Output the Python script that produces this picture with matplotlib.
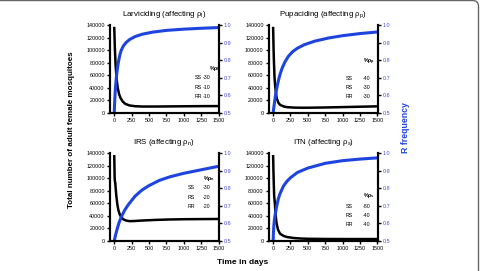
import matplotlib
matplotlib.use("Agg")
import matplotlib.pyplot as plt
from matplotlib.patches import FancyBboxPatch

plt.rcParams['font.family'] = ['Liberation Sans', 'DejaVu Sans']
plt.rcParams['mathtext.default'] = 'regular'

# x ticks / y ticks
x_ticks = [0, 250, 500, 750, 1000, 1250, 1500]
pop_ticks = [0, 20000, 40000, 60000, 80000, 100000, 120000, 140000]
freq_ticks = [0.5, 0.6, 0.7, 0.8, 0.9, 1.0]

# Larviciding (rho_l)
days_l = [0, 5, 10, 20, 35, 50, 70, 90, 120, 160, 220, 300, 400, 600, 800, 1000, 1250, 1500]
pop_l = [137000, 118000, 100000, 76000, 53000, 40000, 30000, 24000, 18500, 14500, 12000, 10800,
         10300, 10300, 10500, 10700, 10900, 11000]
days_lf = [0, 5, 10, 15, 20, 30, 40, 50, 65, 80, 100, 130, 170, 220, 300, 400, 550, 750, 1000, 1250, 1500]
freq_l = [0.5, 0.55, 0.59, 0.625, 0.655, 0.7, 0.735, 0.765, 0.8, 0.828, 0.855, 0.88, 0.9, 0.917,
          0.934, 0.947, 0.959, 0.969, 0.976, 0.981, 0.985]

# Pupaciding (rho_p)
days_p = [0, 5, 10, 20, 30, 50, 75, 100, 150, 200, 300, 400, 500, 750, 1000, 1250, 1500]
pop_p = [137000, 110000, 88000, 57000, 42000, 24000, 16500, 13000, 10500, 9300, 8600, 8400,
         8400, 8800, 9400, 10000, 10600]
days_pf = [0, 10, 20, 30, 45, 60, 80, 100, 130, 170, 220, 280, 350, 450, 600, 800, 1000, 1250, 1500]
freq_p = [0.5, 0.53, 0.56, 0.588, 0.625, 0.655, 0.69, 0.72, 0.755, 0.79, 0.822, 0.848, 0.868,
          0.888, 0.908, 0.926, 0.939, 0.951, 0.96]

# IRS (rho_n)
days_n = [0, 3, 6, 10, 15, 20, 30, 45, 60, 80, 100, 130, 170, 220, 300, 400, 600, 800, 1000, 1250, 1500]
pop_n = [137000, 120000, 100000, 95000, 92000, 85000, 72000, 58000, 49000, 42000, 38000, 34500,
         32500, 31500, 31800, 32500, 33500, 34200, 34600, 34800, 35000]
days_nf = [0, 20, 40, 70, 100, 150, 200, 300, 400, 500, 650, 800, 1000, 1250, 1500]
freq_n = [0.5, 0.535, 0.565, 0.605, 0.635, 0.675, 0.705, 0.755, 0.79, 0.815, 0.845, 0.865,
          0.885, 0.905, 0.925]

# ITN (rho_s)
days_s = [0, 5, 10, 15, 20, 25, 35, 50, 70, 100, 150, 200, 300, 400, 500, 750, 1000, 1500]
pop_s = [137000, 110000, 90000, 72000, 66000, 60000, 42000, 28000, 18000, 11500, 8000, 6200,
         4600, 3800, 3400, 3100, 3000, 3000]
days_sf = [0, 5, 10, 20, 30, 50, 75, 100, 150, 200, 250, 350, 500, 750, 1000, 1250, 1500]
freq_s = [0.5, 0.55, 0.585, 0.625, 0.65, 0.695, 0.74, 0.77, 0.813, 0.84, 0.86, 0.89,
          0.915, 0.942, 0.957, 0.966, 0.973]

genotypes = ['SS', 'RS', 'RR']

blue = '#1e44e0'
tick_blue = '#4848d8'

fig = plt.figure(figsize=(4.8, 2.71), dpi=100)

panels = [
    # rect, title, days, pop, fdays, freq, header, values, text positions
    ([0.229, 0.583, 0.227, 0.325], r'Larviciding (affecting ρ$_{l}$)', days_l, pop_l, days_lf, freq_l,
     r'%ρ$_{l}$', ['-30', '-10', '-10'], (0.91, 0.511), 0.78, 0.85, [0.398, 0.284, 0.182]),
    ([0.560, 0.583, 0.227, 0.325], r'Pupaciding (affecting ρ$_{p}$)', days_p, pop_p, days_pf, freq_p,
     r'%ρ$_{p}$', ['-40', '-30', '-30'], (0.865, 0.58), 0.706, 0.865, [0.397, 0.292, 0.185]),
    ([0.229, 0.111, 0.227, 0.324], r'IRS (affecting ρ$_{n}$)', days_n, pop_n, days_nf, freq_n,
     r'%ρ$_{n}$', ['-30', '-20', '-20'], (0.856, 0.714), 0.713, 0.85, [0.606, 0.5, 0.389]),
    ([0.560, 0.111, 0.227, 0.324], r'ITN (affecting ρ$_{s}$)', days_s, pop_s, days_sf, freq_s,
     r'%ρ$_{s}$', ['-80', '-40', '-40'], (0.86, 0.515), 0.706, 0.865, [0.397, 0.294, 0.191]),
]

for rect, title, d, p, fd, f, header, vals, hpos, xg, xv, rows in panels:
    ax = fig.add_axes(rect)
    ax.plot(d, p, color='black', lw=1.8, solid_capstyle='butt')
    ax.set_xlim(-62, 1505)
    ax.set_ylim(0, 140000)
    ax.set_xticks(x_ticks)
    ax.set_yticks(pop_ticks)
    ax.set_xticklabels([str(t) for t in x_ticks])
    ax.set_yticklabels([str(t) for t in pop_ticks])
    ax.tick_params(labelsize=3.9, length=2.2, width=1, pad=1.5, direction='out')
    ax.spines['top'].set_visible(False)
    for s in ['left', 'bottom', 'right']:
        ax.spines[s].set_linewidth(1.5)
    ax.set_title(title, fontsize=5.7, pad=6.5)

    ax2 = ax.twinx()
    ax2.plot(fd, f, color=blue, lw=2.2, solid_capstyle='butt')
    ax2.set_ylim(0.5, 1.0)
    ax2.set_yticks(freq_ticks)
    ax2.set_yticklabels(['%.1f' % t for t in freq_ticks])
    ax2.tick_params(labelsize=3.9, length=2.2, width=1, pad=1.5, labelcolor=tick_blue)
    ax2.spines['top'].set_visible(False)
    for s in ['left', 'bottom', 'right']:
        ax2.spines[s].set_linewidth(1.5)

    ax2.text(hpos[0], hpos[1], header, transform=ax.transAxes, fontsize=3.8,
             fontweight='bold', ha='left', va='center')
    for g, v, yy in zip(genotypes, vals, rows):
        ax2.text(xg, yy, g, transform=ax.transAxes, fontsize=3.8, ha='left', va='center')
        ax2.text(xv, yy, v, transform=ax.transAxes, fontsize=3.8, ha='left', va='center')

fig.text(0.148, 0.52, 'Total number of adult female mosquitoes', rotation=90,
         fontsize=5.8, fontweight='bold', ha='center', va='center')
fig.text(0.844, 0.528, 'R frequency', rotation=90, color=blue,
         fontsize=6.3, fontweight='bold', ha='center', va='center')
fig.text(0.506, 0.03, 'Time in days', fontsize=6, fontweight='bold', ha='center', va='center')

frame = FancyBboxPatch((-0.2, -0.2), 4.985, 2.905, boxstyle='round,pad=0,rounding_size=0.06',
                       transform=fig.dpi_scale_trans, fill=False, edgecolor='#666666', lw=1)
fig.patches.append(frame)

fig.savefig('out.png', dpi=100)
